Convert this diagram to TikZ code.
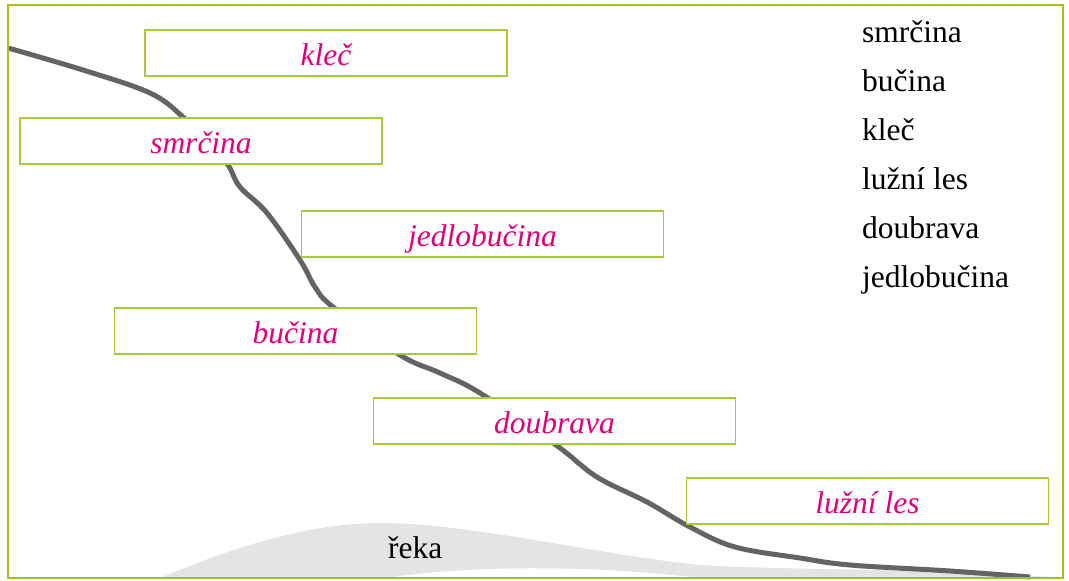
\documentclass[tikz,border=0pt]{standalone}
\usepackage{fontspec}
\setmainfont{Liberation Serif}
\definecolor{framegreen}{HTML}{9CC31E}
\definecolor{boxgreen}{HTML}{A6CA3C}
\definecolor{zonepink}{HTML}{E4007C}
\definecolor{slopegray}{HTML}{646464}
\definecolor{rivergray}{HTML}{E3E4E3}
\tikzset{
  zone box/.style={
    draw=boxgreen,
    line width=1.2pt,
    fill=white,
    minimum width=362pt,
    minimum height=46pt,
    inner sep=0pt,
    text=zonepink,
    font=\fontsize{31.5}{36}\selectfont\itshape,
    text height=24pt,
    text depth=0pt,
  },
  list item/.style={
    anchor=base west,
    inner sep=0pt,
    font=\fontsize{31.5}{36}\selectfont,
  },
}

\begin{document}
\begin{tikzpicture}[x=1pt, y=-1pt]
      \useasboundingbox (0,0) rectangle (1069,581);

      % river
      \fill[rivergray] (160,578) .. controls (250,540) and (320,523) .. (380,523)
        .. controls (470,523) and (600,555) .. (700,565)
        .. controls (800,571) and (950,568) .. (1062,578)
        -- (700,578) .. controls (600,566) and (480,564) .. (385,578) -- cycle;
      \node[list item] (reka) at (388,558) {řeka};

      % slope
      \draw[slopegray, line width=5pt] plot[smooth, tension=0.6] coordinates {
        (8,48) (83,70) (150,93) (183,117) (210,145) (228,165) (240,187)
        (267,213) (300,260) (315,287) (333,307) (400,355) (440,373)
        (480,393) (556,445) (597,477) (647,502) (690,527) (735,547)
        (800,558) (850,565) (950,571) (1030,577)};

      \node[zone box] (klec) at (326,53) {kleč};
      \node[zone box] (smrcina) at (201,141) {smrčina};
      \node[zone box] (jedlobucina) at (482.5,234) {jedlobučina};
      \node[zone box] (bucina) at (295.5,331) {bučina};
      \node[zone box] (doubrava) at (554.5,421) {doubrava};
      \node[zone box] (luzni) at (867.5,501) {lužní les};

      \node[list item] (list1) at (862,42) {smrčina};
      \node[list item] (list2) at (862,91) {bučina};
      \node[list item] (list3) at (862,140) {kleč};
      \node[list item] (list4) at (862,189) {lužní les};
      \node[list item] (list5) at (862,238) {doubrava};
      \node[list item] (list6) at (862,287) {jedlobučina};

      \draw[framegreen, line width=2pt] (7.5,5) rectangle (1063,578);
    \end{tikzpicture}
\end{document}
